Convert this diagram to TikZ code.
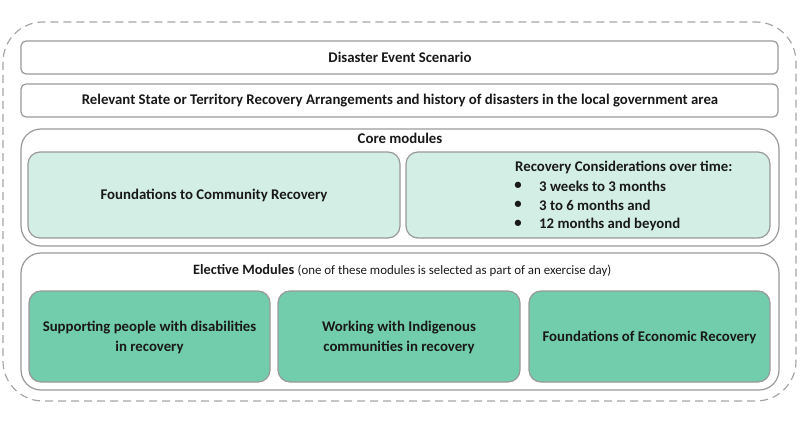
\documentclass[tikz,border=0pt]{standalone}
\usepackage{fontspec}
\setmainfont{Carlito}
\begin{document}
\begin{tikzpicture}[x=1pt,y=-1pt,
  box/.style={draw=black!40, line width=1.2pt, rounded corners=#1},
  box/.default=5pt,
  lab/.style={font=\fontsize{14.8}{20}\selectfont\bfseries, text=black!90, align=center},
  light/.style={fill=lightg},
  dark/.style={fill=darkg}]
\definecolor{lightg}{HTML}{D3EEE4}
\definecolor{darkg}{HTML}{72CDAC}
\useasboundingbox (0,0) rectangle (800,425);
\draw[black!35, line width=1.2pt, dash pattern=on 8pt off 5pt, rounded corners=40pt] (3,22) rectangle (796,401);
% top boxes
\draw[box] (21,41) rectangle (778,74);
\node[lab] (t1) at (400,57.5) {Disaster Event Scenario};
\draw[box] (21,84) rectangle (778,117);
\node[lab] (t2) at (400,100.5) {Relevant State or Territory Recovery Arrangements and history of disasters in the local government area};
% core
\draw[box=20pt] (21,129) rectangle (779,246);
\node[lab] (core) at (400,138) {Core modules};
\draw[box=12pt, light] (28,152) rectangle (400,238);
\node[lab] (fcr) at (214,195) {Foundations to Community Recovery};
\draw[box=12pt, light] (406,152) rectangle (770,238);
\node[lab, anchor=west, inner sep=0pt] (rc) at (515,167) {Recovery Considerations over time:};
\node[lab] (b1) at (518,186) {•};
\node[lab, anchor=west, inner sep=0pt] (l1) at (539,186) {3 weeks to 3 months};
\node[lab] (b2) at (518,205) {•};
\node[lab, anchor=west, inner sep=0pt] (l2) at (539,205) {3 to 6 months and};
\node[lab] (b3) at (518,224) {•};
\node[lab, anchor=west, inner sep=0pt] (l3) at (539,224) {12 months and beyond};
% elective
\draw[box=20pt] (21,253) rectangle (779,390);
\node[lab, anchor=west, inner sep=0pt] (el) at (193,271) {{\fontsize{14.3}{16}\selectfont Elective Modules} {\mdseries\fontsize{12.9}{16}\selectfont(one of these modules is selected as part of an exercise day)}};
\draw[box=12pt, dark] (29,291) rectangle (270,382);
\node[lab] (e1) at (149.5,337) {Supporting people with disabilities\\in recovery};
\draw[box=12pt, dark] (278,291) rectangle (520,382);
\node[lab] (e2) at (399,337) {Working with Indigenous\\communities in recovery};
\draw[box=12pt, dark] (529,291) rectangle (770,382);
\node[lab] (e3) at (649.5,337) {Foundations of Economic Recovery};
\end{tikzpicture}
\end{document}
